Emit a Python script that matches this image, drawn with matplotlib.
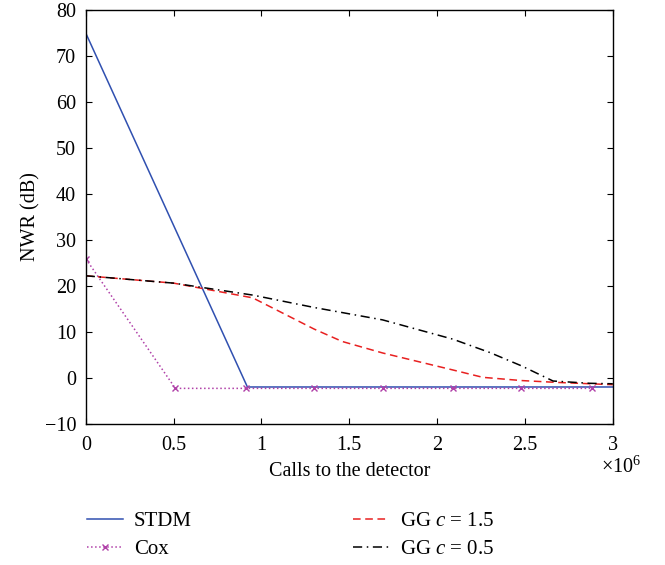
import numpy as np
import matplotlib
matplotlib.use("Agg")
import matplotlib.pyplot as plt

plt.rcParams["font.family"] = ["Liberation Serif", "DejaVu Serif"]
plt.rcParams["mathtext.fontset"] = "custom"
plt.rcParams["mathtext.rm"] = "Liberation Serif"
plt.rcParams["mathtext.it"] = "Liberation Serif:italic"

# calls to the detector (raw counts) and NWR in dB
stdm_x = [0, 0.92e6, 3.0e6]
stdm_y = [75, -2.0, -2.0]

cox_x = [0, 0.51e6, 0.91e6, 1.30e6, 1.69e6, 2.09e6, 2.48e6, 2.88e6]
cox_y = [25.9, -2.3, -2.3, -2.3, -2.3, -2.3, -2.3, -2.3]

gg15_x = [0, 0.50e6, 0.95e6, 1.30e6, 1.46e6, 1.69e6, 2.09e6, 2.26e6, 2.48e6, 2.68e6, 3.0e6]
gg15_y = [22.2, 20.6, 17.4, 10.6, 7.9, 5.4, 1.7, 0.1, -0.6, -1.0, -1.5]

gg05_x = [0, 0.50e6, 0.95e6, 1.30e6, 1.69e6, 2.09e6, 2.30e6, 2.48e6, 2.66e6, 2.87e6, 3.0e6]
gg05_y = [22.2, 20.6, 18.0, 15.3, 12.6, 8.4, 5.5, 2.6, -0.7, -1.2, -1.3]

xticks = [0, 0.5e6, 1.0e6, 1.5e6, 2.0e6, 2.5e6, 3.0e6]
xtick_labels = ["0", "0.5", "1", "1.5", "2", "2.5", "3"]
yticks = [-10, 0, 10, 20, 30, 40, 50, 60, 70, 80]

fig = plt.figure(figsize=(6.65, 5.65), dpi=100)
ax = fig.add_axes([0.129, 0.250, 0.7925, 0.732])

ax.plot(stdm_x, stdm_y, color="#3050b0", lw=1.1, label="STDM")
ax.plot(cox_x, cox_y, color="#b040a8", lw=1.1, linestyle=":", marker="x",
        markersize=5, label="Cox")
ax.plot(gg15_x, gg15_y, color="#e82020", lw=1.1, linestyle=(0, (5, 3)),
        label="GG $c$ = 1.5")
ax.plot(gg05_x, gg05_y, color="black", lw=1.1, linestyle=(0, (6, 3, 1, 3)),
        label="GG $c$ = 0.5")

ax.set_xlim(0, 3.0e6)
ax.set_ylim(-10, 80)
ax.set_xticks(xticks)
ax.set_xticklabels(xtick_labels)
ax.set_yticks(yticks)
ax.set_yticklabels([("\u2212" + str(-v)) if v < 0 else str(v) for v in yticks])
ax.tick_params(direction="in", top=True, right=True, labelsize=14.5, length=4)
ax.tick_params(axis="x", pad=9)
ax.tick_params(axis="y", pad=7)
for s in ax.spines.values():
    s.set_linewidth(1.0)

ax.set_xlabel("Calls to the detector", fontsize=14.5, labelpad=5)
ax.set_ylabel("NWR (dB)", fontsize=14.5, labelpad=3)
ax.text(1.015, -0.105, "\u00d710$^6$", transform=ax.transAxes, fontsize=14.5,
        ha="center", va="center")

fig.legend(loc="upper left", bbox_to_anchor=(0.131, 0.094), ncol=2,
           frameon=False, fontsize=15, handlelength=1.7, handletextpad=0.55,
           columnspacing=7.75, labelspacing=0.4,
           bbox_transform=fig.transFigure, borderaxespad=0, borderpad=0)

fig.savefig("out.png", dpi=100)
